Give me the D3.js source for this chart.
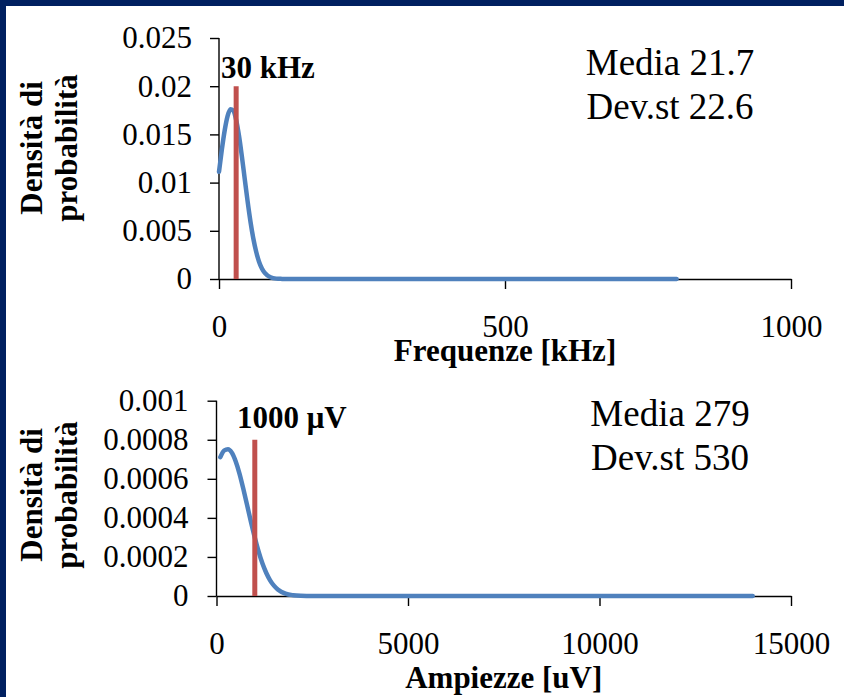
<!DOCTYPE html>
<html>
<head>
<meta charset="utf-8">
<script src="https://cdnjs.cloudflare.com/ajax/libs/d3/7.8.5/d3.min.js"></script>
<style>
  html, body { margin: 0; padding: 0; background: white; }
  svg { display: block; }
  svg text { font-family: "Liberation Serif", "Tinos", "Times New Roman", "DejaVu Serif", serif !important; }
</style>
</head>
<body>
<script>
// frequency distribution (kHz)
const freqX = [0, 5, 10, 15, 20, 25, 30, 35, 40, 45, 50, 55, 60, 65, 70, 75, 80, 90, 100, 110, 120, 800];
const freqY = [0.01113, 0.01343, 0.01543, 0.01689, 0.01760, 0.01746, 0.01650, 0.01484, 0.01271, 0.01038,
               0.00806, 0.00596, 0.00420, 0.00282, 0.00180, 0.00109, 0.00063, 0.00018, 0.00004, 0.00001, 0, 0];
const freqMarker = 30;
const freqMarkerTop = 0.02;
const freqTicksX = [0, 500, 1000];
const freqTicksY = [0, 0.005, 0.01, 0.015, 0.02, 0.025];

// amplitude distribution (uV)
const ampX = [100, 200, 300, 400, 500, 600, 700, 800, 900, 1000, 1100, 1200, 1300, 1400, 1500, 1600, 1800, 2000, 2200, 2500, 14000];
const ampY = [0.000711, 0.000745, 0.000752, 0.000734, 0.000690, 0.000627, 0.000549, 0.000465, 0.000379, 0.000299,
              0.000227, 0.000166, 0.000118, 0.0000804, 0.0000529, 0.0000337, 0.0000123, 0.0000039, 0.000001, 0, 0];
const ampMarker = 1000;
const ampMarkerTop = 0.0008;
const ampTicksX = [0, 5000, 10000, 15000];
const ampTicksY = [0, 0.0002, 0.0004, 0.0006, 0.0008, 0.001];

const blue = "#4f81bd", red = "#c0504d", navy = "#002060";

const svg = d3.select("body").append("svg")
    .attr("width", 844)
    .attr("height", 697)

svg.append("rect").attr("width", 844).attr("height", 697).attr("fill", "white")
svg.append("rect").attr("width", 844).attr("height", 6).attr("fill", navy)
svg.append("rect").attr("width", 6).attr("height", 697).attr("fill", navy)

const fmt = d => String(+(+d).toPrecision(6));

function panel(o) {
    const x = d3.scaleLinear().domain(o.xDomain).range([o.left, 791]);
    const y = d3.scaleLinear().domain(o.yDomain).range([o.bottom, o.top]);
    const g = svg.append("g");

    // y axis
    const ya = g.append("g")
        .attr("transform", `translate(${o.left},0)`)
        .call(d3.axisLeft(y).tickValues(o.yTicks).tickSize(9).tickPadding(o.yPad).tickFormat(fmt))
    // x axis
    const xa = g.append("g")
        .attr("transform", `translate(0,${o.bottom})`)
        .call(d3.axisBottom(x).tickValues(o.xTicks).tickSize(10).tickSizeOuter(0).tickPadding(26).tickFormat(fmt))

    for (const a of [ya, xa]) {
        a.attr("font-family", null)
        a.select(".domain").attr("stroke", "#000").attr("stroke-width", 1.4)
        a.selectAll(".tick line").attr("stroke", "#000").attr("stroke-width", 1.4)
        a.selectAll("text").attr("fill", "#000").style("font-size", "31px")
    }
    ya.select(".domain").attr("d", `M0,${o.bottom}V${o.top}`)

    // curve
    const pts = o.xs.map((v, i) => [v, o.ys[i]]);
    g.append("path")
        .datum(pts)
        .attr("d", d3.line().x(d => x(d[0])).y(d => y(d[1])).curve(d3.curveMonotoneX))
        .attr("fill", "none")
        .attr("stroke", blue)
        .attr("stroke-width", 4.5)
        .attr("stroke-linecap", "round")

    // marker line
    g.append("line")
        .attr("x1", x(o.marker)).attr("x2", x(o.marker))
        .attr("y1", y(0)).attr("y2", y(o.markerTop))
        .attr("stroke", red)
        .attr("stroke-width", 5)

    g.append("text")
        .attr("x", o.markerLabelX).attr("y", o.markerLabelY)
        .style("font-weight", "bold").style("font-size", "31px")
        .text(o.markerLabel)

    // stats
    o.stats.forEach((s, i) => {
        g.append("text")
            .attr("x", 670).attr("y", o.statsY + i * 44)
            .attr("text-anchor", "middle")
            .style("font-size", "37px")
            .text(s)
    })

    // axis titles
    g.append("text")
        .attr("x", (o.left + 791) / 2).attr("y", o.xTitleY)
        .attr("text-anchor", "middle")
        .style("font-weight", "bold").style("font-size", "31px")
        .text(o.xTitle)

    ;["Densità di", "probabilità"].forEach((t, i) => {
        g.append("text")
            .attr("transform", `translate(${41.5 + i * 35},${o.yTitleY}) rotate(-90)`)
            .attr("text-anchor", "middle")
            .style("font-weight", "bold").style("font-size", "31px")
            .text(t)
    })
}

panel({
    xDomain: [0, 1000], yDomain: [0, 0.025], left: 219, top: 38, bottom: 279,
    xTicks: freqTicksX, yTicks: freqTicksY, yPad: 18,
    xs: freqX, ys: freqY, marker: freqMarker, markerTop: freqMarkerTop,
    markerLabel: "30 kHz", markerLabelX: 221, markerLabelY: 78,
    stats: ["Media 21.7", "Dev.st 22.6"], statsY: 75,
    xTitle: "Frequenze [kHz]", xTitleY: 361, yTitleY: 148
})

panel({
    xDomain: [0, 15000], yDomain: [0, 0.001], left: 216.5, top: 400.7, bottom: 596,
    xTicks: ampTicksX, yTicks: ampTicksY, yPad: 19,
    xs: ampX, ys: ampY, marker: ampMarker, markerTop: ampMarkerTop,
    markerLabel: "1000 μV", markerLabelX: 237, markerLabelY: 428,
    stats: ["Media 279", "Dev.st 530"], statsY: 426,
    xTitle: "Ampiezze [uV]", xTitleY: 688, yTitleY: 495
})
</script>
</body>
</html>
